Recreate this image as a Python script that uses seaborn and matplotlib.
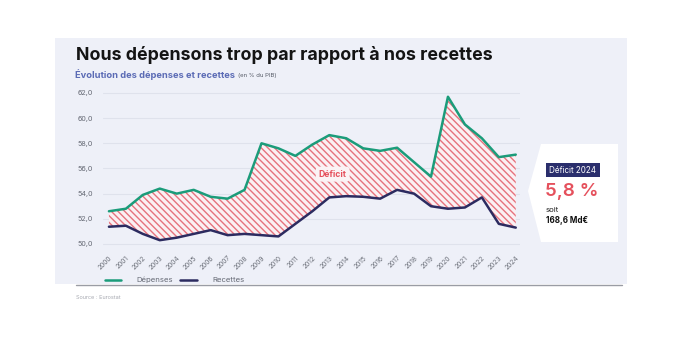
import matplotlib
matplotlib.use("Agg")
import matplotlib.pyplot as plt
from matplotlib.patches import Polygon, Rectangle
import seaborn as sns
import pandas as pd

# Public spending and revenue, % of GDP (Eurostat)
years = list(range(2000, 2025))
depenses = [52.6, 52.8, 53.9, 54.4, 54.0, 54.3, 53.75, 53.6, 54.3, 58.0, 57.6, 57.0,
            57.9, 58.65, 58.4, 57.6, 57.4, 57.65, 56.5, 55.35, 61.7, 59.5, 58.4, 56.9, 57.1]
recettes = [51.37, 51.45, 50.8, 50.3, 50.5, 50.8, 51.1, 50.7, 50.8, 50.7, 50.6, 51.6,
            52.6, 53.7, 53.8, 53.75, 53.6, 54.3, 54.0, 53.0, 52.8, 52.9, 53.7, 51.6, 51.3]
y_ticks = [50, 52, 54, 56, 58, 60, 62]
deficit_pct = "5,8 %"
deficit_eur = "168,6 Md€"

GREEN = "#1b9c7a"
NAVY = "#2c2b60"
RED = "#e5505c"
PANEL = "#eef0f8"

sns.set_theme(style="white")
plt.rcParams["font.family"] = ["Inter", "DejaVu Sans"]
plt.rcParams["hatch.linewidth"] = 1.0

W, H = 684, 345
fig = plt.figure(figsize=(W / 100, H / 100), dpi=100)
fig.patch.set_facecolor("white")

# background layer in pixel coordinates
bg = fig.add_axes([0, 0, 1, 1], zorder=0)
bg.set_xlim(0, W)
bg.set_ylim(H, 0)
bg.axis("off")
bg.add_patch(Rectangle((55, 38), 572, 246, facecolor=PANEL, edgecolor="none"))
bg.plot([76, 622], [284.5, 284.5], color="#9a9ca4", lw=1.0)

bg.text(76, 55, "Nous dépensons trop par rapport à nos recettes", fontsize=12.8,
        fontweight="bold", color="#141414", va="center", ha="left")
sub = bg.text(75, 75, "Évolution des dépenses et recettes", fontsize=6.7,
              fontweight="bold", color="#5b6bb5", va="center", ha="left")
bg.annotate("(en % du PIB)", xy=(1, 0.5), xycoords=sub, xytext=(2.0, -0.3),
            textcoords="offset points", fontsize=4.3, color="#555a66",
            va="center", ha="left")
bg.text(76, 297.5, "Source : Eurostat", fontsize=4.0, color="#a8aab2",
        va="center", ha="left")

# callout box for the last year
bg.add_patch(Polygon([(541, 144), (618, 144), (618, 242), (541, 242), (528, 191)],
                     closed=True, facecolor="white", edgecolor="none"))
bg.add_patch(Rectangle((546, 163), 54, 14, facecolor="#2a2e6c", edgecolor="none"))
bg.text(549, 170.3, "Déficit 2024", fontsize=5.8, color="white", va="center", ha="left")
bg.text(545, 191.5, deficit_pct, fontsize=13.5, color=RED, va="center", ha="left",
        fontweight="semibold")
bg.text(546, 209.5, "soit", fontsize=5.6, color="#222222", va="center", ha="left")
bg.text(546, 220.5, deficit_eur, fontsize=5.8, color="#111111", va="center",
        ha="left", fontweight="bold")

# chart
ax = fig.add_axes([103 / W, 1 - 249 / H, (520 - 103) / W, (249 - 89.2) / H], zorder=1)
ax.patch.set_alpha(0)

df = pd.DataFrame({
    "Année": years * 2,
    "Valeur": depenses + recettes,
    "Série": ["Dépenses"] * len(years) + ["Recettes"] * len(years),
})

ax.fill_between(years, recettes, depenses, facecolor="#fbf0f3", edgecolor="#e6727d",
                hatch="\\\\\\\\\\", linewidth=0, zorder=1)
sns.lineplot(data=df, x="Année", y="Valeur", hue="Série",
             palette={"Dépenses": GREEN, "Recettes": NAVY}, linewidth=1.8,
             ax=ax, zorder=3)

ax.set_xlim(1999.65, 2024.25)
ax.set_ylim(49.6, 62.3)
ax.set_yticks(y_ticks)
ax.set_yticklabels([f"{v:.1f}".replace(".", ",") for v in y_ticks], fontsize=5.2,
                   color="#666a75")
ax.set_xticks(years)
ax.set_xticklabels([str(y) for y in years], rotation=45, ha="right",
                   rotation_mode="anchor", fontsize=4.8, color="#6a6e78")
ax.tick_params(axis="y", length=0, pad=7)
ax.tick_params(axis="x", length=0, pad=4)
ax.grid(axis="y", color="#dfe2ec", lw=0.8)
ax.set_axisbelow(True)
for s in ax.spines.values():
    s.set_visible(False)
ax.set_xlabel("")
ax.set_ylabel("")

ax.text(2013.2, 55.55, "Déficit", fontsize=6.2, fontweight="bold", color=RED,
        ha="center", va="center", zorder=4,
        bbox=dict(boxstyle="round,pad=0.35", facecolor="#fbf3f5", edgecolor="none"))

handles, labels = ax.get_legend_handles_labels()
ax.legend(handles, labels, loc="center left", bbox_to_anchor=(101 / W, 1 - 280 / H),
          bbox_transform=fig.transFigure, ncol=2, frameon=False, fontsize=5.6,
          handlelength=2.1, handletextpad=2.0, columnspacing=0.9, borderpad=0,
          labelcolor="#666a75")

fig.savefig("out.png", dpi=100, facecolor="white")
